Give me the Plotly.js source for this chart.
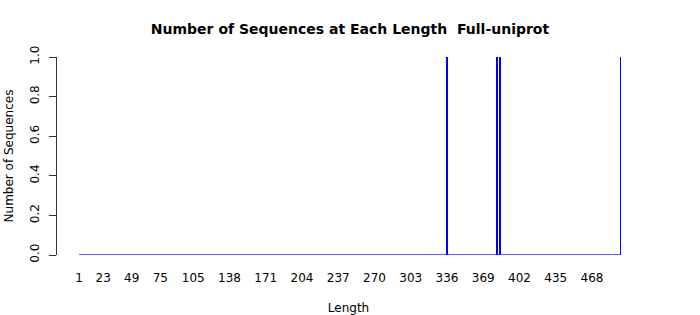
<!DOCTYPE html>
<html>
<head>
<meta charset="utf-8">
<script src="https://cdn.plot.ly/plotly-3.0.1.min.js"></script>
<style>html,body{margin:0;padding:0;background:#fff}#chart{width:700px;height:315px}</style>
</head>
<body>
<div id="chart"></div>
<script>
// Data
const seqLengths = [336, 381, 382, 384, 494];
const seqCounts = [1, 1, 1, 1, 1];
const lengthRange = [1, 494];           // first and last length on the axis
const xTickLabels = [1, 23, 49, 75, 105, 138, 171, 204, 237, 270, 303, 336, 369, 402, 435, 468];
const yTickValues = [0, 0.2, 0.4, 0.6, 0.8, 1.0];
const yTickText = ["0.0", "0.2", "0.4", "0.6", "0.8", "1.0"];

const font = "DejaVu Sans, sans-serif";
const blue = "#0000ff";

const traces = [
  {
    type: "scatter", mode: "lines",
    x: lengthRange, y: [0, 0],
    line: {color: "#2a2aff", width: 1.3},
    hoverinfo: "skip", showlegend: false
  },
  {
    type: "bar",
    x: seqLengths, y: seqCounts,
    width: 1.6,
    marker: {color: blue, line: {width: 0}},
    showlegend: false
  }
];

const layout = {
  width: 700, height: 315,
  margin: {l: 57, r: 60, t: 57, b: 60},
  paper_bgcolor: "#fff", plot_bgcolor: "#fff",
  font: {family: font, size: 12, color: "#000"},
  title: {
    text: "<b>Number of Sequences at Each Length \u00a0Full-uniprot</b>",
    font: {family: font, size: 14, color: "#000"},
    x: 0.5, xanchor: "center", y: 0.908, yanchor: "middle"
  },
  xaxis: {
    range: [-19.03, 511.7],
    tickmode: "array", tickvals: xTickLabels, ticktext: xTickLabels.map(String),
    ticks: "outside", ticklen: 12, tickcolor: "rgba(0,0,0,0)",
    showgrid: false, zeroline: false, showline: false,
    tickfont: {family: font, size: 12, color: "#000"},
    title: {text: "Length", font: {family: font, size: 12, color: "#000"}, standoff: 20}
  },
  yaxis: {
    range: [0, 1],
    tickmode: "array", tickvals: yTickValues, ticktext: yTickText,
    tickangle: -90,
    ticks: "outside", ticklen: 7, tickcolor: "#333", tickwidth: 1,
    ticklabelstandoff: 5,
    showline: true, linecolor: "#333", linewidth: 1,
    showgrid: false, zeroline: false,
    tickfont: {family: font, size: 12, color: "#000"},
    title: {text: "Number of Sequences", font: {family: font, size: 12, color: "#000"}, standoff: 12}
  },
  bargap: 0
};

Plotly.newPlot("chart", traces, layout, {staticPlot: true, displayModeBar: false});
</script>
</body>
</html>
